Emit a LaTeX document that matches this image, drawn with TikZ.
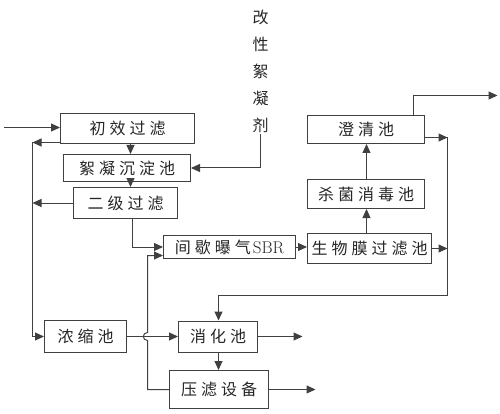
\documentclass[tikz,border=0pt]{standalone}
\usepackage{fontspec}
\newfontfamily\cjk{Noto Sans CJK SC}
\usetikzlibrary{arrows.meta,calc}
\def\spaced#1{\spacedA#1\relax}
\def\spacedA#1{\ifx\relax#1\else#1\expandafter\spacedB\fi}
\def\spacedB#1{\ifx\relax#1\else\kern4pt#1\expandafter\spacedB\fi}
\begin{document}
\begin{tikzpicture}[x=1pt,y=-1pt,
  box/.style={draw=black!75,line width=1pt,fill=white,inner sep=0pt,font=\cjk\fontsize{16}{16}\selectfont,text=black!85},
  arr/.style={draw=black!75,line width=1pt,-{Triangle[length=9pt,width=8pt]}},
  ln/.style={draw=black!75,line width=1pt}]
\useasboundingbox (0,0) rectangle (500,414);
\begin{scope}[shift={(0.5,0.5)}]
% nodes
\node[box,minimum width=134pt,minimum height=30pt] (n1) at (127,128) {\spaced{初效过滤}};
\node[box,minimum width=127pt,minimum height=27pt] (n2) at (126.5,167.5) {\spaced{絮凝沉淀池}};
\node[box,minimum width=104pt,minimum height=31pt] (n3) at (125,202.5) {\spaced{二级过滤}};
\node[box,minimum width=132pt,minimum height=23pt] (sbr) at (229,246.5) {\spaced{间歇曝气}\kern2pt{\rmfamily\fontsize{17}{17}\selectfont SBR}};
\node[box,minimum width=124pt,minimum height=30pt] (bio) at (369,248) {\spaced{生物膜过滤池}};
\node[box,minimum width=117pt,minimum height=29pt] (kill) at (365.5,193.5) {\spaced{杀菌消毒池}};
\node[box,minimum width=117pt,minimum height=28pt] (clar) at (365.5,129) {\spaced{澄清池}};
\node[box,minimum width=82pt,minimum height=32pt] (thick) at (85,336) {\spaced{浓缩池}};
\node[box,minimum width=79pt,minimum height=31pt] (dig) at (217.5,336) {\spaced{消化池}};
\node[box,minimum width=99pt,minimum height=38pt] (press) at (218.5,389) {\spaced{压滤设备}};
\node[font=\cjk\fontsize{16}{27}\selectfont,text=black!85,align=center,inner sep=1pt] (agent) at (260,71) {改\\性\\絮\\凝\\剂};
% coordinates
\coordinate (in) at (3,127);
\coordinate (cx) at (130,0);
\coordinate (L1) at (32,142);
\coordinate (c2) at (132,0);
\coordinate (c3) at (147,255);
\coordinate (hop) at (c3 |- thick.east);
\coordinate (o1) at (302,336);
\coordinate (o2) at (315,388);
\coordinate (cd) at (218,0);
\coordinate (R) at (447,0);
\coordinate (Rtop) at (447,137);
\coordinate (Rbot) at (447,295);
\coordinate (cv) at (366,0);
\coordinate (ct) at (413,95);
\coordinate (out) at (497,95);
% connectors
\draw[arr] (in) -- (in -| n1.west);
\draw[arr] (n1.south -| cx) -- (n2.north -| cx);
\draw[arr] (n2.south -| cx) -- (n3.north -| cx);
\draw[arr] (n1.west |- L1) -- (L1);
\draw[arr] (n3.west) -- (n3.west -| L1);
\draw[arr] (L1) |- (thick.west);
\draw[arr] (agent.south) |- (n2.east);
\draw[arr] (n3.south -| c2) |- (sbr.west);
\draw[arr] (press.west) -| ($(hop)+(0,4)$) .. controls +(-5.5,0) and +(-5.5,0) .. ($(hop)+(0,-4)$) -- (c3) -- (c3 -| sbr.west);
\draw[arr] (thick.east) -- (dig.west);
\draw[arr] (dig.east) -- (o1);
\draw[arr] (press.east) -- (o2 |- press.east);
\draw[arr] (dig.south -| cd) -- (press.north -| cd);
\draw[arr] (sbr.east) -- (sbr.east -| bio.west);
\draw[arr] (bio.east) -- (bio.east -| R);
\draw[arr] (clar.east |- Rtop) -- (Rtop);
\draw[arr] (Rtop) -- (Rbot) -| (dig.north -| cd);
\draw[arr] (bio.north -| cv) -- (kill.south -| cv);
\draw[arr] (kill.north -| cv) -- (clar.south -| cv);
\draw[arr] (clar.north -| ct) -- (ct) -- (out);
\end{scope}
\end{tikzpicture}
\end{document}
